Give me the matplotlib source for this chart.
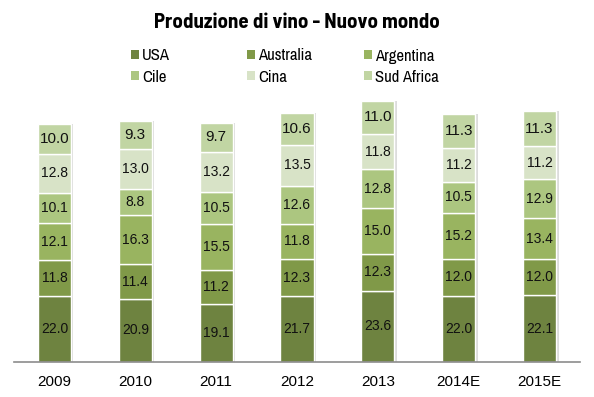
import matplotlib
matplotlib.use("Agg")
import matplotlib.pyplot as plt
from matplotlib.patches import Patch
import numpy as np

years = ["2009", "2010", "2011", "2012", "2013", "2014E", "2015E"]
series_names = ["USA", "Australia", "Argentina", "Cile", "Cina", "Sud Africa"]
usa = [22.0, 20.9, 19.1, 21.7, 23.6, 22.0, 22.1]
australia = [11.8, 11.4, 11.2, 12.3, 12.3, 12.0, 12.0]
argentina = [12.1, 16.3, 15.5, 11.8, 15.0, 15.2, 13.4]
cile = [10.1, 8.8, 10.5, 12.6, 12.8, 10.5, 12.9]
cina = [12.8, 13.0, 13.2, 13.5, 11.8, 11.2, 11.2]
sud_africa = [10.0, 9.3, 9.7, 10.6, 11.0, 11.3, 11.3]

colors = ["#6E8340", "#809948", "#99B460", "#ACC680", "#D8E3C7", "#C1D5A3"]

W, H = 594, 397
fig = plt.figure(figsize=(W / 100, H / 100), dpi=100)
ax = fig.add_axes([14 / W, 35 / H, (580 - 14) / W, (362 - 90) / H])

title_font = ["Barlow Semi Condensed", "DejaVu Sans"]
leg_font = ["Archivo Narrow", "DejaVu Sans"]
reg = ["Liberation Sans", "DejaVu Sans"]

data = [usa, australia, argentina, cile, cina, sud_africa]
x = np.arange(len(years))
width = 0.41
totals = np.sum(np.array(data), axis=0)
# subtle shadow
ax.bar(x + 0.03, totals, width, color="#dcdcdc", zorder=1, linewidth=0)
bottom = np.zeros(len(years))
for i, (vals, name) in enumerate(zip(data, series_names)):
    vals = np.array(vals)
    ax.bar(x, vals, width, bottom=bottom, color=colors[i], edgecolor="white",
           linewidth=1.0, zorder=2, label=name)
    for xi, b, v in zip(x, bottom, vals):
        fs = 11 if i == 5 else 10
        ax.text(xi, b + v / 2, f"{v:.1f}", ha="center", va="center",
                fontsize=fs, family=reg, color="#111111", zorder=3)
    bottom += vals

ax.set_xlim(-0.5, len(years) - 0.5)
ax.set_ylim(0, 90)
ax.set_xticks(x)
ax.set_xticklabels(years, family=reg, fontsize=11)
ax.tick_params(axis="x", length=0, pad=9)
ax.set_yticks([])
for s in ["top", "right", "left"]:
    ax.spines[s].set_visible(False)
ax.spines["bottom"].set_color("#8c8c8c")
ax.spines["bottom"].set_linewidth(1.2)

fig.text(0.5, 1 - 28 / H, "Produzione di vino - Nuovo mondo", ha="center",
         va="baseline", fontsize=15, fontweight=700, family=title_font)

# legend entries placed individually (3 columns x 2 rows)
col_x = [131, 247, 364]
row_y = [56, 77]
for i, name in enumerate(series_names):
    r, c = divmod(i, 3)
    h = [Patch(facecolor=colors[i], edgecolor="none")]
    fig.legend(h, [name], loc="center left",
               bbox_to_anchor=(col_x[c] / W, 1 - row_y[r] / H),
               frameon=False, prop={"family": leg_font, "size": 12},
               handlelength=0.45, handleheight=0.45, handletextpad=0.2,
               borderpad=0, borderaxespad=0)

fig.savefig("out.png", dpi=100)
